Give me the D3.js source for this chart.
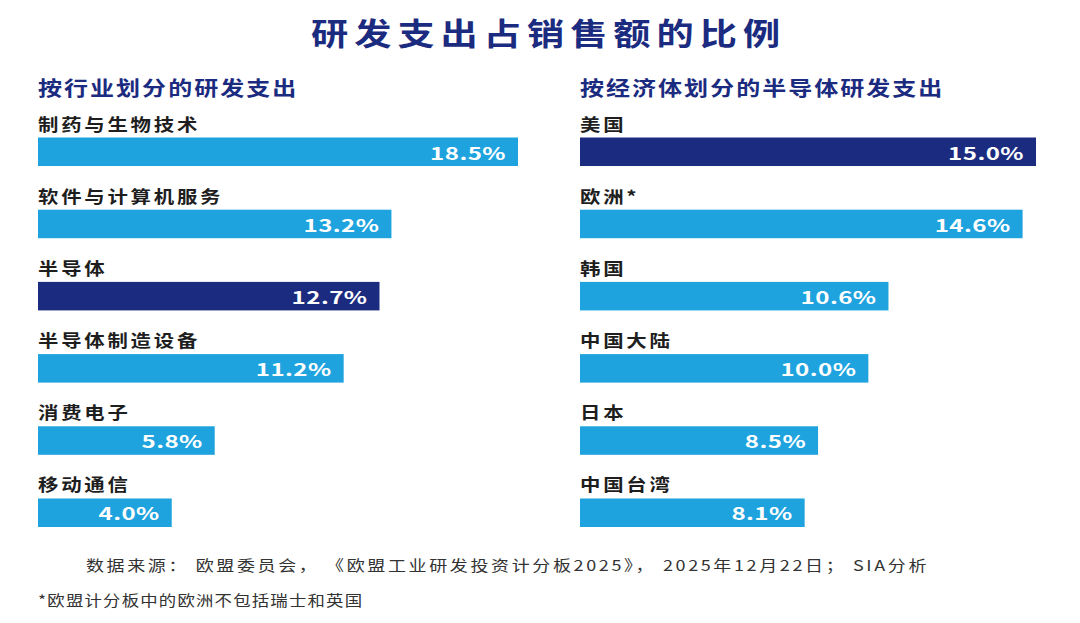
<!DOCTYPE html>
<html>
<head>
<meta charset="utf-8">
<script src="https://cdn.jsdelivr.net/npm/d3@7"></script>
<style>
  html, body { margin: 0; padding: 0; background: #fff; }
  text { font-family: "Noto Sans CJK SC", "Noto Sans", sans-serif; }
</style>
</head>
<body>
<svg id="chart"></svg>
<script>
// data
const industries = ["制药与生物技术", "软件与计算机服务", "半导体", "半导体制造设备", "消费电子", "移动通信"];
const industryValues = [18.5, 13.2, 12.7, 11.2, 5.8, 4.0];
const economies = ["美国", "欧洲*", "韩国", "中国大陆", "日本", "中国台湾"];
const economyValues = [15.0, 14.6, 10.6, 10.0, 8.5, 8.1];
const highlighted = ["半导体", "美国"];

const titleText = "研发支出占销售额的比例";
const leftHeading = "按行业划分的研发支出";
const rightHeading = "按经济体划分的半导体研发支出";
const sourceText = "数据来源： 欧盟委员会， 《欧盟工业研发投资计分板2025》， 2025年12月22日； SIA分析";
const noteText = "*欧盟计分板中的欧洲不包括瑞士和英国";

const width = 1080, height = 623;
const NAVY = "#1b2b80", BLUE = "#1ea3de";
const SX = 1.2; // source image is stretched horizontally

const svg = d3.select("#chart").attr("width", width).attr("height", height);

// text helper: stretched horizontally around its anchor
function label(g, str, x, y, opts) {
  return g.append("text")
    .attr("transform", `translate(${x},${y}) scale(${opts.sx || SX},1)`)
    .attr("font-size", opts.size)
    .attr("font-weight", opts.weight || 400)
    .attr("letter-spacing", opts.ls || 0)
    .attr("text-anchor", opts.anchor || "start")
    .attr("fill", opts.fill || "#222")
    .text(str);
}

label(svg, titleText, 311, 45, { size: 31, weight: 700, ls: 5, fill: NAVY });

function drawPanel(x0, heading, cats, vals, domainMin, barMax) {
  const g = svg.append("g").attr("transform", `translate(${x0},0)`);

  label(g, heading, 0, 96, { size: 20, weight: 700, ls: 1.7, fill: NAVY });

  const x = d3.scaleLinear().domain([domainMin, d3.max(vals)]).range([0, barMax]);
  const y = d3.scaleBand().domain(cats).range([137.5, 527]).paddingInner(0.605).paddingOuter(0);

  const rows = g.selectAll("g.row")
    .data(cats.map((c, i) => ({ name: c, value: vals[i] })))
    .join("g").attr("class", "row");

  rows.append("rect")
    .attr("x", 0)
    .attr("y", d => y(d.name))
    .attr("width", d => x(d.value))
    .attr("height", y.bandwidth())
    .attr("fill", d => highlighted.includes(d.name) ? NAVY : BLUE);

  rows.each(function(d) {
    const row = d3.select(this);
    label(row, d.name, 0, y(d.name) - 7, { size: 17, weight: 700, ls: 2.3, fill: "#1e1e1e" });
    label(row, d.value.toFixed(1) + "%", x(d.value) - 12, y(d.name) + 22,
      { size: 17, weight: 700, ls: 0.3, sx: 1.42, anchor: "end", fill: "#fff" })
      .attr("font-family", "'Noto Sans', 'DejaVu Sans', sans-serif");
  });
}

drawPanel(38, leftHeading, industries, industryValues, -1.6, 480);
drawPanel(580, rightHeading, economies, economyValues, 1.4, 456);

label(svg, sourceText, 86, 571, { size: 15, weight: 400, ls: 2.2, fill: "#333" });
label(svg, noteText, 38, 606, { size: 14.5, weight: 400, ls: 1, fill: "#333" });
</script>
</body>
</html>
